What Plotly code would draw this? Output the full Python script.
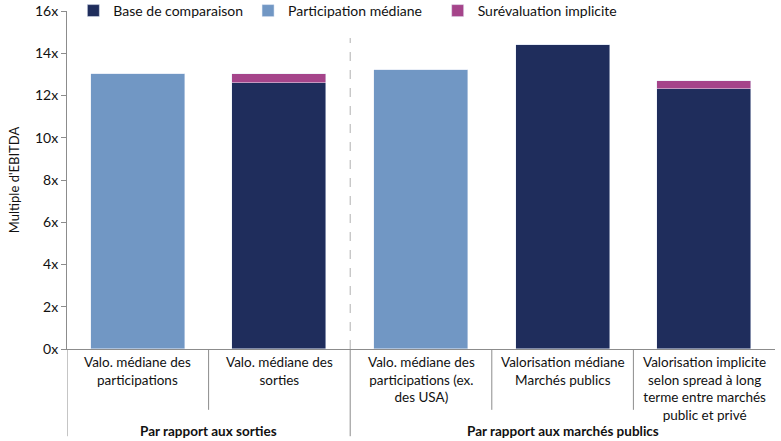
import plotly.graph_objects as go

categories = [
    "Valo. médiane des<br>participations",
    "Valo. médiane des<br>sorties",
    "Valo. médiane des<br>participations (ex.<br>des USA)",
    "Valorisation médiane<br>Marchés publics",
    "Valorisation implicite<br>selon spread à long<br>terme entre marchés<br>public et privé",
]
groups = ["Par rapport aux sorties", "Par rapport aux marchés publics"]
group_members = [[0, 1], [2, 3, 4]]

base = [0, 12.6, 0, 14.4, 12.3]
participation = [13.0, 0, 13.2, 0, 0]
surevaluation = [0, 0.4, 0, 0, 0.4]

y_ticks = [0, 2, 4, 6, 8, 10, 12, 14, 16]
y_ticklabels = [f"{v}x" for v in y_ticks]

NAVY = "#1F2D5C"
LIGHT = "#7197C4"
MAGENTA = "#A5448A"

x = list(range(len(categories)))
fig = go.Figure()
fig.add_bar(x=x, y=base, name="Base de comparaison", marker_color=NAVY, width=0.665)
fig.add_bar(x=x, y=participation, name="Participation médiane\u00a0\u00a0\u00a0", marker_color=LIGHT, width=0.665)
fig.add_bar(x=x, y=surevaluation, name="Surévaluation implicite", marker_color=MAGENTA, width=0.665)

font_main = "Lato, 'Open Sans', sans-serif"
font_cat = "Lato, sans-serif"

annotations = []
for i, c in enumerate(categories):
    annotations.append(dict(x=i, y=-0.008, xref="x", yref="paper", text=c, showarrow=False,
                            xanchor="center", yanchor="top", align="center",
                            font=dict(family=font_cat, size=13.5, color="#111")))
for g, members in zip(groups, group_members):
    cx = (members[0] + members[-1]) / 2
    annotations.append(dict(x=cx, y=-0.212, xref="x", yref="paper", text=f"<b>{g}</b>", showarrow=False,
                            xanchor="center", yanchor="top",
                            font=dict(family=font_cat, size=13.5, color="#111")))

shapes = []
line_col = "#8c8c8c"
for xv in [-0.5, 1.5]:
    shapes.append(dict(type="line", xref="x", yref="paper", x0=xv, x1=xv, y0=0, y1=-0.258,
                       line=dict(color=line_col, width=1)))
for xv in [0.5, 2.5, 3.5]:
    shapes.append(dict(type="line", xref="x", yref="paper", x0=xv, x1=xv, y0=0, y1=-0.18,
                       line=dict(color=line_col, width=1)))
shapes.append(dict(type="line", xref="x", yref="paper", x0=1.5, x1=1.5, y0=0, y1=0.92,
                   line=dict(color="#b0b0b0", width=1, dash="dash")))

fig.update_layout(
    barmode="stack",
    width=781, height=441,
    margin=dict(l=67, r=6, t=11, b=92, autoexpand=False),
    plot_bgcolor="white", paper_bgcolor="white",
    font=dict(family=font_main, size=14, color="#111"),
    bargap=0,
    xaxis=dict(range=[-0.5, 4.5], showticklabels=False, showgrid=False, zeroline=False,
               showline=True, linecolor=line_col, linewidth=1, ticks="", automargin=False),
    yaxis=dict(range=[0, 16], tickvals=y_ticks, ticktext=y_ticklabels, showgrid=False,
               zeroline=False, showline=True, linecolor=line_col, linewidth=1,
               ticks="outside", ticklen=5, tickcolor=line_col, automargin=False,
               title=dict(text="Multiple d'EBITDA", font=dict(size=13), standoff=12),
               tickfont=dict(size=14)),
    legend=dict(orientation="h", x=0.009, xanchor="left", y=1.0, yanchor="middle",
                font=dict(size=14), traceorder="normal", itemwidth=30,
                bgcolor="rgba(0,0,0,0)"),
    annotations=annotations,
    shapes=shapes,
    showlegend=True,
)
fig.write_html("out.html", config={"displayModeBar": False},
               post_script="document.body.style.margin='0px';")
